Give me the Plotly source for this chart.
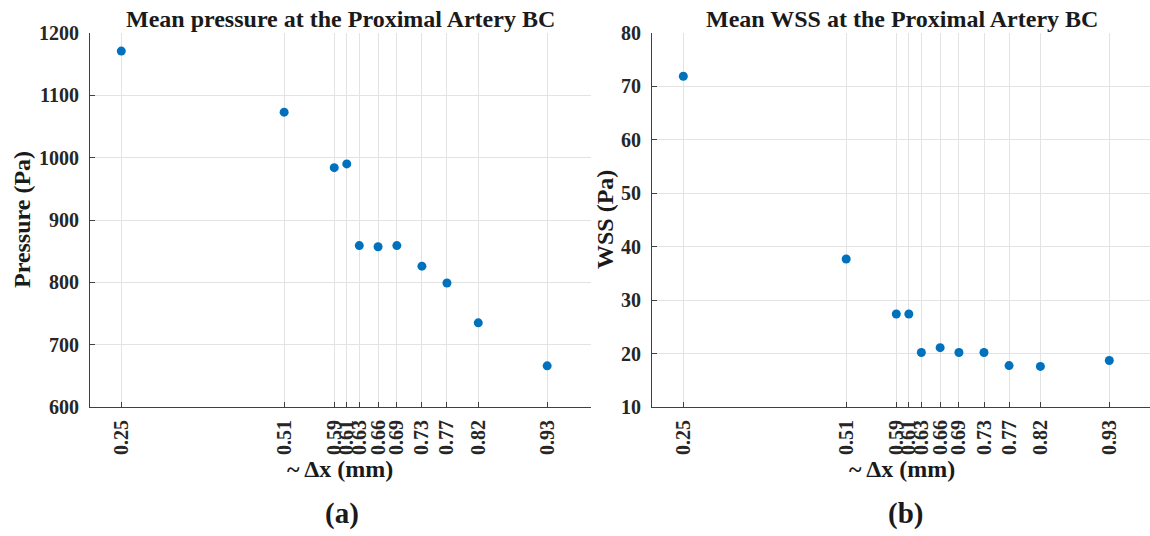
import plotly.graph_objects as go

dx = [0.25, 0.51, 0.59, 0.61, 0.63, 0.66, 0.69, 0.73, 0.77, 0.82, 0.93]
pressure = [1171, 1073, 984, 990, 859, 857, 859, 826, 799, 735, 666]
wss = [71.9, 37.7, 27.4, 27.4, 20.2, 21.1, 20.2, 20.2, 17.75, 17.6, 18.7]
tick_labels = ["0.25", "0.51", "0.59", "0.61", "0.63", "0.66", "0.69", "0.73", "0.77", "0.82", "0.93"]
p_ticks = [600, 700, 800, 900, 1000, 1100, 1200]
w_ticks = [10, 20, 30, 40, 50, 60, 70, 80]

W, H = 1150, 536
FONT = "Liberation Serif, Times New Roman, serif"
BLUE = "#0072BD"

fig = go.Figure()
fig.add_trace(go.Scatter(x=dx, y=pressure, mode="markers",
                         marker=dict(color=BLUE, size=9), xaxis="x", yaxis="y"))
fig.add_trace(go.Scatter(x=dx, y=wss, mode="markers",
                         marker=dict(color=BLUE, size=9), xaxis="x2", yaxis="y2"))

def px_x(p):
    return p / W

def px_y(p):
    return 1 - p / H

ydom = [px_y(407), px_y(33)]

common_x = dict(
    tickmode="array", tickvals=dx, ticktext=tick_labels, tickangle=-90,
    tickfont=dict(family=FONT, size=20, color="#262626", weight="bold"),
    showgrid=True, gridcolor="#e3e3e3", gridwidth=1,
    showline=True, linecolor="#404040", linewidth=1,
    ticks="inside", ticklen=5, tickcolor="#404040",
    zeroline=False, ticklabelstandoff=4, automargin=False,
)
common_y = dict(
    tickfont=dict(family=FONT, size=20, color="#262626", weight="bold"),
    showgrid=True, gridcolor="#e3e3e3", gridwidth=1,
    showline=True, linecolor="#404040", linewidth=1,
    ticks="inside", ticklen=5, tickcolor="#404040",
    zeroline=False, ticklabelstandoff=6, automargin=False,
)

fig.update_layout(
    width=W, height=H,
    margin=dict(l=0, r=0, t=0, b=0, autoexpand=False),
    paper_bgcolor="white", plot_bgcolor="white",
    showlegend=False,
    xaxis=dict(domain=[px_x(90), px_x(591)], range=[0.2, 1.0], anchor="y", **common_x),
    yaxis=dict(domain=ydom, range=[600, 1200], tickvals=p_ticks, anchor="x", **common_y),
    xaxis2=dict(domain=[px_x(652), 1.0], range=[0.2, 0.995], anchor="y2", **common_x),
    yaxis2=dict(domain=ydom, range=[10, 80], tickvals=w_ticks, anchor="x2", **common_y),
)

def ann(text, x, y, size, angle=0):
    fig.add_annotation(text="<b>" + text + "</b>", x=px_x(x), y=px_y(y),
                       xref="paper", yref="paper", showarrow=False,
                       xanchor="center", yanchor="middle", textangle=angle,
                       font=dict(family=FONT, size=size, color="#1a1a1a"))

ann("Mean pressure at the Proximal Artery BC", 340, 19, 24)
ann("Mean WSS at the Proximal Artery BC", 902, 19, 24)
ann("~ Δx (mm)", 340, 469, 24)
ann("~ Δx (mm)", 902, 469, 24)
ann("Pressure (Pa)", 22, 220, 24, -90)
ann("WSS (Pa)", 605, 220, 24, -90)
ann("(a)", 342, 513, 29)
ann("(b)", 905, 513, 29)

fig.write_html("out.html")
